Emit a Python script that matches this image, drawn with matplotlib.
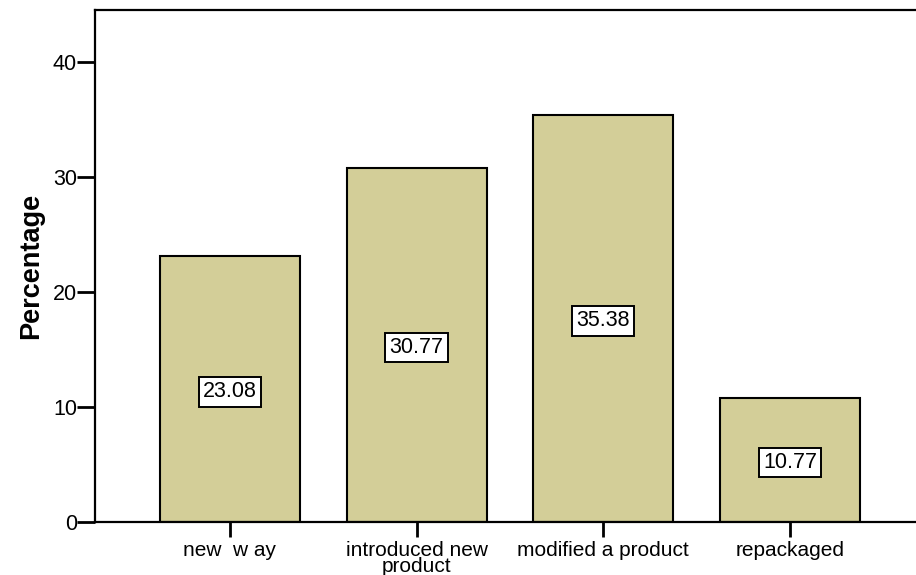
import matplotlib.pyplot as plt

categories = ['new  w ay', 'introduced new\nproduct', 'modified a product', 'repackaged']
percentages = [23.08, 30.77, 35.38, 10.77]
value_labels = ['23.08', '30.77', '35.38', '10.77']
yticks = [0, 10, 20, 30, 40]

plt.rcParams['font.family'] = ['Liberation Sans', 'DejaVu Sans']

fig = plt.figure(figsize=(9.16, 5.75), dpi=100)
ax = fig.add_axes([95 / 916, 53 / 575, 1 - 95 / 916, 512 / 575])

x = list(range(len(categories)))
ax.bar(x, percentages, width=0.75, color='#D3CE98', edgecolor='black', linewidth=1.5)

for xi, v, lab in zip(x, percentages, value_labels):
    ax.text(xi, v / 2, lab, ha='center', va='center_baseline', fontsize=15.5,
            bbox=dict(boxstyle='square,pad=0.2', facecolor='white', edgecolor='black', linewidth=1.4))

ax.set_xlim(-0.723, 3.675)
ax.set_ylim(0, 44.5)
ax.set_yticks(yticks)
ax.set_xticks(x)
ax.set_xticklabels(categories, fontsize=15, linespacing=0.8)
ax.tick_params(axis='y', labelsize=15.5, length=13, width=2, direction='out', pad=0)
ax.tick_params(axis='x', length=11, width=2, direction='out', pad=3)
ax.set_ylabel('Percentage', fontsize=19.5, fontweight='bold', labelpad=6)

ax.spines['right'].set_visible(False)
for s in ['left', 'top', 'bottom']:
    ax.spines[s].set_linewidth(1.6)

fig.savefig('out.png', dpi=100)
